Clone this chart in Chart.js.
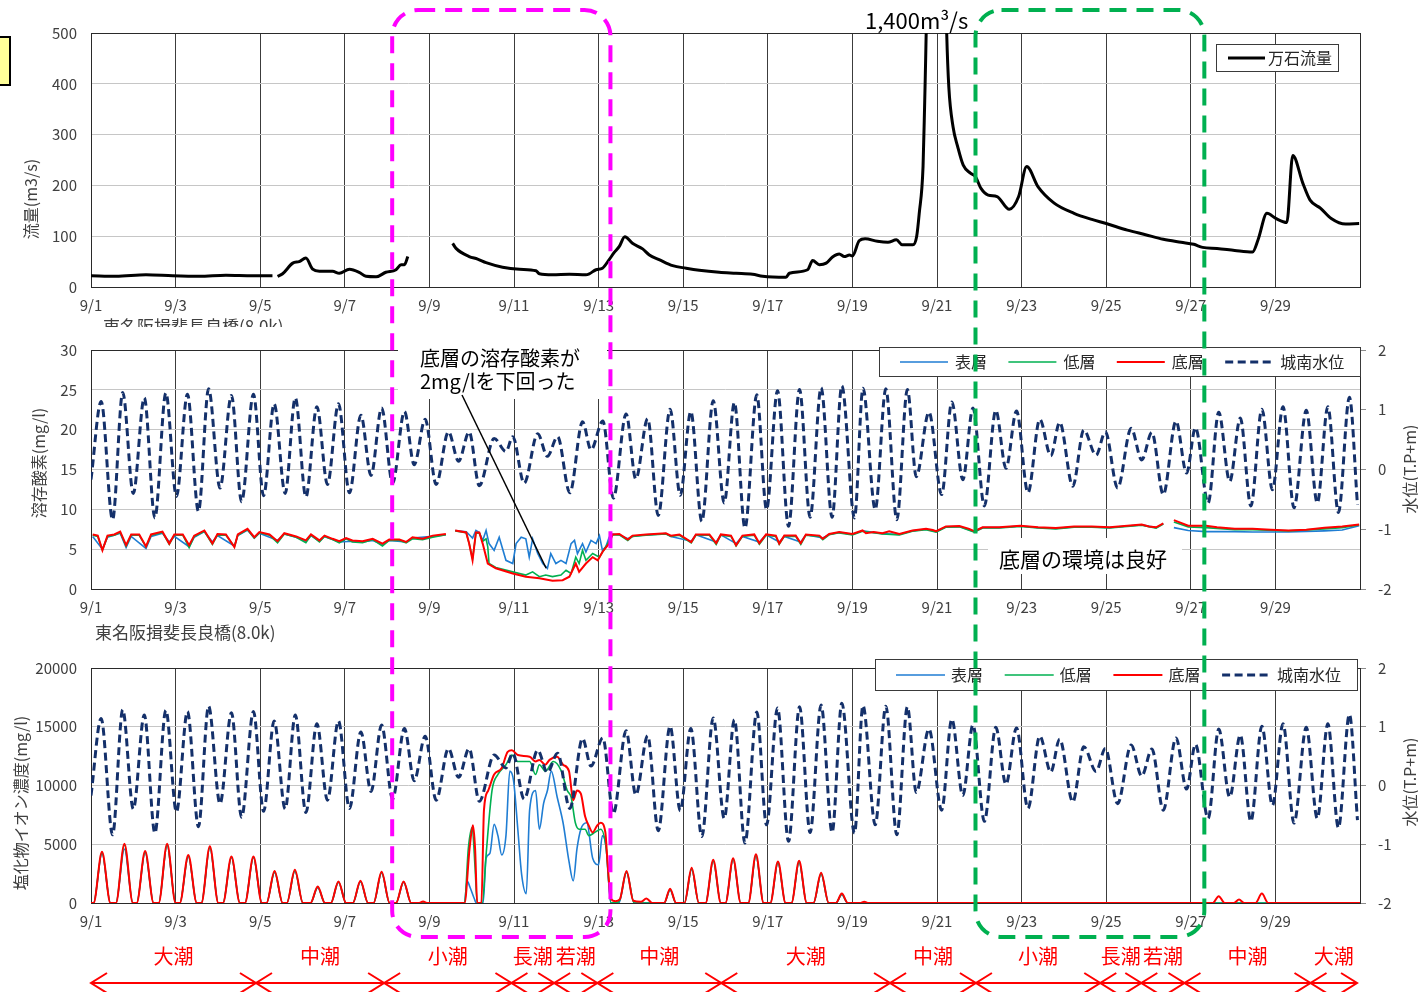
<!DOCTYPE html>
<html lang="ja">
<head>
<meta charset="utf-8">
<title>揖斐長良川 流量・溶存酸素・塩化物イオン濃度</title>
<script src="https://cdn.jsdelivr.net/npm/chart.js@4.4.1/dist/chart.umd.min.js"></script>
<style>
  html, body { margin: 0; padding: 0; background: #fff; }
  #page { position: relative; width: 1418px; height: 992px; overflow: hidden; background: #fff; }
  #page canvas { position: absolute; left: 0; }
  #flowCanvas { top: 0; }
  #doCanvas { top: 327px; }
  #clCanvas { top: 645px; }
  #overlay { top: 0; pointer-events: none; }
</style>
</head>
<body>
<div id="page">
  <canvas id="flowCanvas" width="1418" height="327" style="width:1418px;height:327px"></canvas>
  <canvas id="doCanvas" width="1418" height="318" style="width:1418px;height:318px"></canvas>
  <canvas id="clCanvas" width="1418" height="347" style="width:1418px;height:347px"></canvas>
  <canvas id="overlay" width="1418" height="992" style="width:1418px;height:992px"></canvas>
</div>
<script>
// ---- axis labels ----
const dateLabels = ['9/1','9/3','9/5','9/7','9/9','9/11','9/13','9/15','9/17','9/19','9/21','9/23','9/25','9/27','9/29'];
const flowTicks  = [0, 100, 200, 300, 400, 500];
const doTicks    = [0, 5, 10, 15, 20, 25, 30];
const clTicks    = [0, 5000, 10000, 15000, 20000];
const levelTicks = [-2, -1, 0, 1, 2];

// ---- 万石流量 (m3/s), [day since 9/1 0:00, value]; null = missing ----
const flowData = [
  [0,22],[0.59,21],[1.30,24],[1.93,22],[2.56,21],[3.19,23],[3.82,22],[4.29,22],[4.35,null],
  [4.41,21],[4.53,26],[4.77,47],[4.92,50],[5.08,57],[5.24,35],[5.40,31],[5.71,31],[5.87,27],[6.11,35],
  [6.34,29],[6.50,21],[6.74,20],[6.97,29],[7.21,34],[7.33,44],[7.41,44],[7.49,60],[8.00,null],
  [8.55,86],[8.63,76],[8.94,60],[9.14,55],[9.34,48],[9.73,39],[10.13,35],[10.52,32],[10.60,26],[10.91,24],
  [11.31,25],[11.70,24],[11.78,26],[11.94,34],[12.09,37],[12.25,54],[12.37,68],[12.49,80],[12.62,99],
  [12.80,86],[13.04,75],[13.20,63],[13.43,54],[13.75,42],[14.07,37],[14.38,33],[14.85,29],[15.25,27],
  [15.64,25],[15.88,21],[16.43,19],[16.51,27],[16.94,34],[17.06,52],[17.22,44],[17.38,47],[17.53,59],
  [17.69,65],[17.81,60],[17.93,63],[18.00,61],[18.16,91],[18.30,95],[18.59,90],[18.84,88],[19.04,93],
  [19.18,83],[19.43,83],[19.52,100],[19.58,145],[19.67,237],[19.71,367],[20.00,1400],[20.23,498],
  [20.28,393],[20.38,315],[20.49,276],[20.62,240],[20.79,224],[20.91,217],[21.04,194],[21.21,181],
  [21.42,178],[21.71,153],[21.93,178],[22.12,237],[22.39,197],[22.77,165],[23.24,145],[23.66,133],
  [24.00,125],[24.50,112],[24.93,103],[25.35,94],[25.77,88],[26.07,84],[26.28,78],[26.62,76],[27.04,72],
  [27.46,69],[27.59,93],[27.80,145],[28.01,135],[28.27,127],[28.41,259],[28.65,204],[28.82,171],
  [29.07,155],[29.32,135],[29.66,124],[29.98,125]
];

// ---- 城南水位 (T.P+m): high and low water, [day, level] ----
const levelData = [
  [0.00,-0.17],[0.24,1.14],[0.51,-0.84],[0.75,1.29],[1.00,-0.40],[1.26,1.20],[1.51,-0.81],[1.77,1.28],
  [2.02,-0.45],[2.28,1.26],[2.54,-0.70],[2.78,1.35],[3.05,-0.31],[3.32,1.24],[3.56,-0.54],[3.84,1.26],
  [4.08,-0.44],[4.33,1.10],[4.59,-0.40],[4.83,1.20],[5.08,-0.46],[5.34,1.05],[5.59,-0.25],[5.85,1.10],
  [6.11,-0.39],[6.38,0.91],[6.62,-0.10],[6.87,1.03],[7.13,-0.23],[7.41,0.97],[7.64,0.08],[7.90,0.84],
  [8.16,-0.25],[8.45,0.63],[8.69,0.14],[8.94,0.63],[9.18,-0.27],[9.53,0.52],[9.81,0.30],[9.97,0.55],
  [10.24,-0.23],[10.56,0.60],[10.79,0.22],[11.03,0.55],[11.32,-0.39],[11.62,0.80],[11.82,0.33],[12.10,0.81],
  [12.35,-0.48],[12.65,0.93],[12.88,-0.16],[13.16,0.85],[13.41,-0.77],[13.69,1.01],[13.93,-0.43],[14.18,0.97],
  [14.44,-0.87],[14.71,1.15],[14.97,-0.56],[15.21,1.12],[15.46,-0.98],[15.74,1.25],[15.97,-0.67],[16.23,1.32],
  [16.49,-0.95],[16.75,1.34],[17.00,-0.80],[17.26,1.37],[17.52,-0.80],[17.75,1.40],[18.05,-0.81],[18.25,1.36],
  [18.54,-0.67],[18.79,1.35],[19.05,-0.84],[19.30,1.34],[19.51,-0.12],[19.81,0.96],[20.11,-0.42],[20.35,1.13],
  [20.61,-0.17],[20.85,1.03],[21.12,-0.61],[21.39,0.99],[21.63,0.02],[21.88,0.98],[22.15,-0.39],[22.43,0.84],
  [22.69,0.23],[22.90,0.79],[23.21,-0.28],[23.47,0.66],[23.76,0.24],[23.98,0.63],[24.27,-0.31],[24.59,0.69],
  [24.84,0.16],[25.08,0.62],[25.35,-0.42],[25.65,0.81],[25.90,-0.06],[26.11,0.70],[26.41,-0.56],[26.66,0.96],
  [26.92,-0.20],[27.17,0.86],[27.42,-0.61],[27.68,1.01],[27.93,-0.34],[28.18,1.05],[28.44,-0.64],[28.73,0.99],
  [28.99,-0.56],[29.24,1.05],[29.49,-0.72],[29.75,1.21],[29.94,-0.59]
];

// ---- 溶存酸素 (mg/l) ----
const doSurface = [
  [0.04,6.6],[0.27,5.0],[0.39,6.5],[0.69,7.0],[0.83,5.2],[0.95,6.6],[1.30,5.1],[1.42,6.6],[1.69,7.0],[1.85,5.9],
  [1.97,6.6],[2.32,5.3],[2.44,6.5],[2.68,7.2],[2.87,5.9],[2.99,6.7],[3.39,5.4],[3.47,6.7],[3.70,7.4],[3.86,6.4],
  [3.98,7.0],[4.41,6.1],[4.57,6.9],[4.85,6.5],[5.08,6.0],[5.20,6.7],[5.40,6.0],[5.52,6.6],[5.87,5.9],[6.18,6.0],
  [6.42,5.9],[6.66,6.1],[6.89,5.6],[7.05,6.1],[7.45,5.9],[7.60,6.4],[8.08,6.6],[8.39,6.8],[8.45,null],
  [8.61,7.35],[8.87,7.2],[9.02,6.4],[9.10,7.35],[9.18,7.1],[9.26,6.1],[9.34,7.35],[9.41,5.7],[9.53,4.85],
  [9.65,6.5],[9.81,3.6],[9.97,3.2],[10.05,5.7],[10.17,6.5],[10.28,6.3],[10.36,4.0],[10.44,6.3],[10.56,4.45],
  [10.68,3.2],[10.79,2.6],[10.87,4.45],[10.99,3.2],[11.11,3.6],[11.23,3.2],[11.35,5.7],[11.43,6.1],[11.50,4.45],
  [11.62,5.7],[11.70,4.65],[11.82,6.1],[11.94,5.7],[12.02,6.7],[12.09,4.85],[12.17,5.3],[12.25,6.5],[12.33,6.9],
  [12.49,6.8],[12.69,6.3],[12.80,6.6],[13.12,6.8],[13.59,6.95],[13.71,6.6],[14.19,6.0],[14.30,6.8],[14.78,5.9],
  [14.89,6.8],[15.25,5.7],[15.40,6.6],[15.80,5.9],[15.96,6.8],[16.27,5.9],[16.39,6.6],[16.78,5.9],[16.90,6.8],
  [17.30,6.4],[17.45,6.85],[17.69,7.1],[18.00,6.85],[18.24,7.3],[18.71,6.95],[19.11,6.85],[19.42,7.3],[19.74,7.5],
  [19.98,7.2],[20.21,7.8],[20.53,7.85],[20.88,7.2],[21.08,7.7],[21.47,7.7],[21.97,7.9],[22.39,7.7],[22.81,7.6],
  [23.24,7.8],[23.66,7.8],[24.08,7.7],[24.50,7.9],[24.84,8.05],[25.18,7.7],[25.35,8.2],[25.45,null],
  [25.60,7.7],[25.94,7.35],[26.36,7.2],[27.04,7.2],[27.46,7.15],[28.31,7.15],[29.16,7.3],[29.58,7.4],[29.98,7.95]
];
const doMiddle = [
  [0.04,6.75],[0.16,6.6],[0.27,4.9],[0.39,6.6],[0.55,6.75],[0.69,7.1],[0.83,5.4],[0.95,6.75],[1.14,6.75],[1.30,5.3],
  [1.42,6.75],[1.69,7.1],[1.85,5.6],[1.97,6.75],[2.17,6.75],[2.32,5.2],[2.44,6.6],[2.68,7.25],[2.87,5.6],[2.99,6.8],
  [3.19,6.75],[3.39,5.3],[3.47,6.75],[3.70,7.45],[3.86,6.4],[3.98,7.05],[4.22,6.75],[4.41,5.8],[4.57,6.9],[4.85,6.5],
  [5.08,5.8],[5.20,6.75],[5.40,5.9],[5.52,6.6],[5.71,6.2],[5.87,5.8],[6.03,6.3],[6.18,5.9],[6.42,5.8],[6.66,6.2],
  [6.89,5.4],[7.05,6.1],[7.29,6.1],[7.45,5.8],[7.60,6.3],[7.84,6.2],[8.08,6.5],[8.39,6.8],[8.45,null],
  [8.61,7.3],[8.87,7.05],[8.94,5.7],[9.02,3.8],[9.10,7.0],[9.18,7.0],[9.26,6.0],[9.34,6.3],[9.38,5.3],[9.41,3.2],
  [9.57,2.7],[9.97,2.15],[10.28,1.75],[10.44,2.15],[10.60,1.55],[10.75,1.75],[10.91,1.55],[11.11,1.75],[11.23,2.35],
  [11.35,1.95],[11.46,4.0],[11.54,3.2],[11.62,4.85],[11.70,3.6],[11.86,4.45],[12.02,4.0],[12.17,5.3],[12.33,6.8],
  [12.49,6.8],[12.69,6.1],[12.80,6.6],[13.12,6.75],[13.59,6.9],[13.71,6.6],[13.91,6.75],[14.19,5.8],[14.30,6.75],
  [14.62,6.75],[14.78,5.6],[14.89,6.75],[15.13,6.6],[15.25,5.4],[15.40,6.6],[15.68,6.75],[15.80,5.6],[15.96,6.75],
  [16.19,6.6],[16.27,5.6],[16.39,6.6],[16.66,6.6],[16.78,5.6],[16.90,6.75],[17.22,6.6],[17.30,6.2],[17.45,6.8],
  [17.69,7.05],[18.00,6.8],[18.24,7.25],[18.71,6.9],[19.11,6.8],[19.42,7.25],[19.74,7.45],[19.98,7.15],[20.21,7.75],
  [20.53,7.8],[20.88,7.15],[21.08,7.65],[21.47,7.65],[21.97,7.85],[22.39,7.65],[22.81,7.55],[23.24,7.75],[23.66,7.75],
  [24.08,7.65],[24.50,7.85],[24.84,8.0],[25.18,7.65],[25.35,8.15],[25.45,null],
  [25.60,8.4],[25.94,7.8],[26.36,7.7],[27.04,7.45],[27.46,7.45],[28.31,7.3],[29.16,7.55],[29.58,7.7],[29.98,8.05]
];
const doBottom = [
  [0.04,6.85],[0.16,6.7],[0.27,4.85],[0.39,6.7],[0.55,6.85],[0.69,7.2],[0.83,5.5],[0.95,6.85],[1.14,6.85],[1.30,5.35],
  [1.42,6.85],[1.69,7.2],[1.85,5.7],[1.97,6.85],[2.17,6.85],[2.32,5.5],[2.44,6.7],[2.68,7.35],[2.87,5.7],[2.99,6.9],
  [3.19,6.85],[3.39,5.25],[3.47,6.85],[3.70,7.55],[3.86,6.5],[3.98,7.15],[4.22,6.85],[4.41,6.0],[4.57,7.0],[4.85,6.6],
  [5.08,6.1],[5.20,6.85],[5.40,6.1],[5.52,6.7],[5.71,6.3],[5.87,6.0],[6.03,6.4],[6.18,6.1],[6.42,6.0],[6.66,6.3],
  [6.89,5.7],[7.05,6.2],[7.29,6.2],[7.45,5.9],[7.60,6.5],[7.84,6.3],[8.08,6.7],[8.39,6.9],[8.45,null],
  [8.61,7.35],[8.87,7.1],[8.94,5.7],[9.02,3.6],[9.10,7.1],[9.18,7.1],[9.26,5.7],[9.38,3.2],[9.57,2.6],[9.97,1.95],
  [10.28,1.55],[10.60,1.35],[10.91,1.05],[11.15,1.1],[11.31,1.55],[11.46,3.2],[11.54,2.15],[11.70,3.2],[11.86,4.0],
  [11.98,3.6],[12.09,4.65],[12.25,5.7],[12.33,6.85],[12.49,6.9],[12.69,6.2],[12.80,6.7],[13.12,6.85],[13.59,7.0],
  [13.71,6.7],[13.91,6.85],[14.19,5.9],[14.30,6.85],[14.62,6.85],[14.78,5.75],[14.89,6.85],[15.13,6.7],[15.25,5.5],
  [15.40,6.7],[15.68,6.85],[15.80,5.75],[15.96,6.85],[16.19,6.7],[16.27,5.7],[16.39,6.7],[16.66,6.7],[16.78,5.75],
  [16.90,6.85],[17.22,6.7],[17.30,6.3],[17.45,6.9],[17.69,7.15],[18.00,6.9],[18.24,7.35],[18.32,7.0],[18.50,7.15],
  [18.71,7.0],[18.87,7.25],[19.11,6.9],[19.42,7.35],[19.74,7.55],[19.90,7.4],[19.98,7.25],[20.21,7.85],[20.53,7.9],
  [20.76,7.55],[20.88,7.25],[21.08,7.75],[21.47,7.75],[21.97,7.95],[22.39,7.75],[22.81,7.65],[23.24,7.85],[23.66,7.85],
  [24.08,7.75],[24.50,7.95],[24.84,8.1],[25.01,7.85],[25.18,7.75],[25.35,8.25],[25.45,null],
  [25.60,8.65],[25.94,7.95],[26.36,7.95],[26.62,7.75],[27.04,7.55],[27.46,7.55],[27.89,7.45],[28.31,7.35],[28.73,7.45],
  [29.16,7.7],[29.58,7.85],[29.98,8.1]
];

// ---- 塩化物イオン濃度 (mg/l) ----
const clSurface = [
  [0,0],[0.06,0],[0.26,4200],[0.46,0],[0.59,0],[0.79,4600],[0.99,0],[1.08,0],[1.28,4300],[1.48,0],[1.60,0],[1.80,4900],
  [2.00,0],[2.10,0],[2.30,3950],[2.50,0],[2.61,0],[2.81,4700],[3.01,0],[3.12,0],[3.32,3850],[3.52,0],[3.64,0],[3.84,3850],
  [4.04,0],[4.15,0],[4.34,2600],[4.53,0],[4.63,0],[4.82,2700],[5.01,0],[5.19,0],[5.36,1300],[5.53,0],[5.67,0],[5.85,1750],
  [6.03,0],[6.19,0],[6.37,1800],[6.55,0],[6.68,0],[6.87,2550],[7.06,0],[7.21,0],[7.39,1750],[7.57,0],[8.83,0],
  [8.89,1890],[8.96,1340],[9.06,380],[9.11,0],[9.27,0],[9.34,3810],[9.43,4220],[9.53,6690],[9.62,5730],[9.71,4090],
  [9.81,5730],[9.90,11220],[9.99,10400],[10.09,6280],[10.18,2440],[10.29,800],[10.37,7930],[10.51,9570],[10.60,6280],
  [10.70,8480],[10.79,9570],[10.88,11220],[11.02,9020],[11.16,6830],[11.30,3540],[11.40,1890],[11.49,4640],[11.58,6280],
  [11.72,6830],[11.86,3810],[12.00,3260],[12.09,5730],[12.18,4640],[12.23,2170],[12.29,0],[12.48,0],[12.66,2600],
  [12.84,0],[13.55,0],[13.69,1100],[13.83,0],[14.03,0],[14.20,2850],[14.37,0],[14.53,0],[14.71,3550],[14.89,0],
  [15.00,0],[15.18,3700],[15.36,0],[15.54,0],[15.72,4000],[15.90,0],[16.06,0],[16.24,3400],[16.42,0],[16.56,0],
  [16.74,3450],[16.92,0],[17.08,0],[17.26,2450],[17.44,0],[17.61,0],[17.75,700],[17.89,0],[30,0]
];
const clMiddle = [
  [0,0],[0.06,0],[0.26,4300],[0.46,0],[0.59,0],[0.79,4950],[0.99,0],[1.08,0],[1.28,4350],[1.48,0],[1.60,0],[1.80,4950],
  [2.00,0],[2.10,0],[2.30,4000],[2.50,0],[2.61,0],[2.81,4750],[3.01,0],[3.12,0],[3.32,3900],[3.52,0],[3.64,0],[3.84,3900],
  [4.04,0],[4.15,0],[4.34,2650],[4.53,0],[4.63,0],[4.82,2750],[5.01,0],[5.19,0],[5.36,1350],[5.53,0],[5.67,0],[5.85,1800],
  [6.03,0],[6.19,0],[6.37,1850],[6.55,0],[6.68,0],[6.87,2600],[7.06,0],[7.21,0],[7.39,1800],[7.57,0],[8.83,0],
  [8.92,4640],[9.01,6420],[9.08,2990],[9.13,0],[9.25,0],[9.34,4090],[9.48,9570],[9.62,10940],[9.81,11770],[9.95,12590],
  [10.09,12040],[10.37,12040],[10.51,10940],[10.60,11770],[10.74,11220],[10.93,12040],[11.12,11220],[11.26,9570],
  [11.35,9020],[11.45,6830],[11.54,6280],[11.68,6280],[11.77,5730],[11.91,6010],[12.05,6280],[12.18,4640],[12.29,0],
  [12.48,100],[12.66,2650],[12.84,0],[13.55,0],[13.69,1150],[13.83,0],[14.03,0],[14.20,2900],[14.37,0],[14.53,0],
  [14.71,3600],[14.89,0],[15.00,0],[15.18,3750],[15.36,0],[15.54,0],[15.72,4050],[15.90,0],[16.06,0],[16.24,3450],
  [16.42,0],[16.56,0],[16.74,3500],[16.92,0],[17.08,0],[17.26,2500],[17.44,0],[17.61,0],[17.75,750],[17.89,0],[30,0]
];
const clBottom = [
  [0,0],[0.06,0],[0.26,4360],[0.46,0],[0.59,0],[0.79,5050],[0.99,0],[1.08,0],[1.28,4420],[1.48,0],[1.60,0],[1.80,5050],
  [2.00,0],[2.10,0],[2.30,4090],[2.50,0],[2.61,0],[2.81,4830],[3.01,0],[3.12,0],[3.32,3950],[3.52,0],[3.64,0],[3.84,3950],
  [4.04,0],[4.15,0],[4.34,2720],[4.53,0],[4.63,0],[4.82,2830],[5.01,0],[5.19,0],[5.36,1400],[5.53,0],[5.67,0],[5.85,1840],
  [6.03,0],[6.19,0],[6.37,1890],[6.55,0],[6.68,0],[6.87,2660],[7.06,0],[7.21,0],[7.39,1840],[7.57,0],[7.74,0],[7.85,120],
  [7.96,0],[8.83,0],[8.95,4640],[9.03,6610],[9.08,4640],[9.13,0],[9.23,0],[9.29,7930],[9.39,9570],[9.53,10940],
  [9.71,11490],[9.85,12860],[9.95,13000],[10.09,12590],[10.37,12450],[10.51,12040],[10.60,12180],[10.74,11770],
  [10.84,12180],[11.02,12450],[11.16,11770],[11.30,11220],[11.40,8750],[11.49,9570],[11.58,9300],[11.68,7380],
  [11.77,6560],[11.86,6010],[11.96,6560],[12.05,6830],[12.16,6010],[12.21,3540],[12.29,380],[12.40,150],[12.50,300],
  [12.66,2720],[12.82,190],[13.00,100],[13.13,380],[13.27,0],[13.55,0],[13.69,1210],[13.83,0],[14.03,0],[14.20,2990],
  [14.37,0],[14.53,0],[14.71,3680],[14.89,0],[15.00,0],[15.18,3810],[15.36,0],[15.54,0],[15.72,4140],[15.90,0],
  [16.06,0],[16.24,3540],[16.42,0],[16.56,0],[16.74,3590],[16.92,0],[17.08,0],[17.26,2580],[17.44,0],[17.61,0],
  [17.75,800],[17.89,0],[18.18,0],[18.28,100],[18.38,0],[26.52,0],[26.66,580],[26.80,0],[27.02,0],[27.14,300],
  [27.26,0],[27.53,0],[27.68,800],[27.83,0],[30,0]
];

// ---- 潮汐区分 (boundaries in days since 9/1) ----
const tideNames  = ['大潮','中潮','小潮','長潮','若潮','中潮','大潮','中潮','小潮','長潮','若潮','中潮','大潮'];
const tideBounds = [0, 3.9, 6.93, 9.94, 10.95, 11.97, 14.9, 18.89, 20.92, 23.86, 24.83, 25.85, 28.83, 29.93];

// highlighted periods (days) and the callout target
const lowDoPeriod  = [7.12, 12.28];
const goodDoPeriod = [20.91, 26.32];
const calloutPoint = [10.76, 2.6];

// ---------------------------------------------------------------
const FONT = "'Noto Sans CJK JP', 'Noto Sans', sans-serif";
const TICK_COLOR = '#404040';
const NAVY = '#14306A', BLUE = '#1F7DD3', GREEN = '#00B050', RED = '#FF0000';
const LEFT_W = 91, RIGHT_W = 58;

Chart.defaults.font.family = FONT;
Chart.defaults.animation = false;

const toPoints = arr => arr.map(p => ({ x: p[0], y: p[1] }));

function xScale(axisHeight) {
  return {
    type: 'linear', min: 0, max: 30,
    afterBuildTicks: s => { s.ticks = dateLabels.map((_, i) => ({ value: i * 2 })); },
    afterFit: s => { s.height = axisHeight; },
    grid: { color: '#3c3c3c', lineWidth: 1, drawTicks: false },
    border: { display: false },
    ticks: { autoSkip: false, maxRotation: 0, minRotation: 0, padding: 9, color: TICK_COLOR,
             font: { family: FONT, size: 15 }, callback: (v, i) => dateLabels[i] }
  };
}
function leftScale(tickValues) {
  return {
    type: 'linear', position: 'left',
    min: tickValues[0], max: tickValues[tickValues.length - 1],
    afterBuildTicks: s => { s.ticks = tickValues.map(v => ({ value: v })); },
    afterFit: s => { s.width = LEFT_W; },
    grid: { color: '#c6c6c6', lineWidth: 1, drawTicks: false },
    border: { display: false },
    ticks: { padding: 14, color: TICK_COLOR, font: { family: FONT, size: 15 }, callback: v => String(v) }
  };
}
function rightScale(tickValues) {
  return {
    type: 'linear', position: 'right',
    min: tickValues[0], max: tickValues[tickValues.length - 1],
    afterBuildTicks: s => { s.ticks = tickValues.map(v => ({ value: v })); },
    afterFit: s => { s.width = RIGHT_W; },
    grid: { drawOnChartArea: false, drawTicks: true, tickLength: 6, color: '#8c8c8c' },
    border: { display: false },
    ticks: { padding: 12, color: TICK_COLOR, font: { family: FONT, size: 15 }, callback: v => String(v) }
  };
}

// plot frame
const framePlugin = {
  id: 'frame',
  beforeDatasetsDraw(chart) {
    const { ctx, chartArea: a } = chart;
    ctx.save();
    ctx.strokeStyle = '#2a2a2a';
    ctx.lineWidth = 1;
    ctx.strokeRect(a.left + 0.5, a.top + 0.5, a.right - a.left, a.bottom - a.top);
    ctx.restore();
  }
};

// axis titles and captions
const textPlugin = {
  id: 'texts',
  afterDraw(chart, args, opts) {
    const ctx = chart.ctx;
    (opts.items || []).forEach(t => {
      ctx.save();
      ctx.fillStyle = t.color || TICK_COLOR;
      ctx.font = `${t.size || 16}px ${FONT}`;
      ctx.translate(t.x, t.y);
      if (t.rotate) {
        ctx.rotate(-Math.PI / 2);
        ctx.textAlign = 'center';
        ctx.textBaseline = 'middle';
      } else {
        ctx.textAlign = 'left';
        ctx.textBaseline = 'alphabetic';
      }
      ctx.fillText(t.text, 0, 0);
      ctx.restore();
    });
  }
};

// boxed legend inside the plot
const legendPlugin = {
  id: 'boxLegend',
  afterDatasetsDraw(chart, args, o) {
    if (!o || !o.order) return;
    const ctx = chart.ctx;
    ctx.save();
    ctx.fillStyle = '#fff';
    ctx.fillRect(o.x, o.y, o.w, o.h);
    ctx.strokeStyle = '#3a3a3a';
    ctx.lineWidth = 1;
    ctx.strokeRect(o.x + 0.5, o.y + 0.5, o.w, o.h);
    const cy = o.y + o.h / 2 + 0.5;
    o.order.forEach((di, k) => {
      const ds = chart.data.datasets[di];
      const x0 = o.x + o.first + k * o.step;
      ctx.strokeStyle = ds.borderColor;
      ctx.lineWidth = ds.borderWidth;
      ctx.setLineDash(ds.borderDash || []);
      ctx.beginPath();
      ctx.moveTo(x0, cy);
      ctx.lineTo(x0 + o.len, cy);
      ctx.stroke();
      ctx.setLineDash([]);
      ctx.fillStyle = '#262626';
      ctx.font = `16px ${FONT}`;
      ctx.textAlign = 'left';
      ctx.textBaseline = 'middle';
      ctx.fillText(ds.label, x0 + o.len + o.gap, cy);
    });
    ctx.restore();
  }
};

const commonPlugins = { legend: { display: false }, tooltip: { enabled: false } };

function lineSet(label, data, color, width, extra) {
  return Object.assign({
    label, data: toPoints(data), borderColor: color, backgroundColor: color,
    borderWidth: width, pointRadius: 0, fill: false, spanGaps: false, tension: 0
  }, extra || {});
}

// ---- 万石流量 ----
const flowChart = new Chart(document.getElementById('flowCanvas'), {
  type: 'line',
  data: { datasets: [
    lineSet('万石流量', flowData, '#000', 3, { cubicInterpolationMode: 'monotone' })
  ] },
  options: {
    responsive: false, animation: false,
    layout: { padding: { left: 0, right: RIGHT_W, top: 33, bottom: 0 } },
    scales: { x: xScale(40), y: leftScale(flowTicks) },
    plugins: Object.assign({}, commonPlugins, {
      boxLegend: { x: 1216, y: 44, w: 122, h: 27, first: 12, step: 0, len: 37, gap: 3, order: [0] },
      texts: { items: [
        { text: '流量(m3/s)', x: 31, y: 199, rotate: true, size: 16 },
        { text: '東名阪揖斐長良橋(8.0k)', x: 103, y: 333, size: 17 }
      ] }
    })
  },
  plugins: [framePlugin, legendPlugin, textPlugin]
});

// ---- 溶存酸素 ----
const doChart = new Chart(document.getElementById('doCanvas'), {
  type: 'line',
  data: { datasets: [
    lineSet('城南水位', levelData, NAVY, 3, { yAxisID: 'y2', borderDash: [8, 4.5], cubicInterpolationMode: 'monotone' }),
    lineSet('底層', doBottom, RED, 2, { yAxisID: 'y' }),
    lineSet('低層', doMiddle, GREEN, 1.6, { yAxisID: 'y' }),
    lineSet('表層', doSurface, BLUE, 1.6, { yAxisID: 'y' })
  ] },
  options: {
    responsive: false, animation: false,
    layout: { padding: { left: 0, right: 0, top: 21, bottom: 0 } },
    scales: { x: xScale(56), y: leftScale(doTicks), y2: rightScale(levelTicks) },
    plugins: Object.assign({}, commonPlugins, {
      boxLegend: { x: 879, y: 20, w: 481, h: 29, first: 21, step: 108.4, len: 48, gap: 7, order: [3, 2, 1, 0] },
      texts: { items: [
        { text: '溶存酸素(mg/l)', x: 39, y: 136, rotate: true, size: 16 },
        { text: '水位(T.P+m)', x: 1410, y: 142, rotate: true, size: 16 },
        { text: '東名阪揖斐長良橋(8.0k)', x: 95, y: 312, size: 17 }
      ] }
    })
  },
  plugins: [framePlugin, legendPlugin, textPlugin]
});

// ---- 塩化物イオン濃度 ----
const clChart = new Chart(document.getElementById('clCanvas'), {
  type: 'line',
  data: { datasets: [
    lineSet('城南水位', levelData, NAVY, 3, { yAxisID: 'y2', borderDash: [8, 4.5], cubicInterpolationMode: 'monotone' }),
    lineSet('底層', clBottom, RED, 2, { yAxisID: 'y', cubicInterpolationMode: 'monotone' }),
    lineSet('低層', clMiddle, GREEN, 1.6, { yAxisID: 'y', cubicInterpolationMode: 'monotone' }),
    lineSet('表層', clSurface, BLUE, 1.6, { yAxisID: 'y', cubicInterpolationMode: 'monotone' })
  ] },
  options: {
    responsive: false, animation: false,
    layout: { padding: { left: 0, right: 0, top: 15, bottom: 0 } },
    scales: { x: xScale(89), y: leftScale(clTicks), y2: rightScale(levelTicks) },
    plugins: Object.assign({}, commonPlugins, {
      boxLegend: { x: 875, y: 14, w: 482, h: 31, first: 21, step: 108.7, len: 49, gap: 6, order: [3, 2, 1, 0] },
      texts: { items: [
        { text: '塩化物イオン濃度(mg/l)', x: 21, y: 158, rotate: true, size: 16 },
        { text: '水位(T.P+m)', x: 1410, y: 137, rotate: true, size: 16 }
      ] }
    })
  },
  plugins: [framePlugin, legendPlugin, textPlugin]
});

// ---- page-wide annotations ----
function dashedBox(ctx, x0, y0, x1, y1, color) {
  const r = 26;
  ctx.save();
  ctx.strokeStyle = color;
  ctx.lineWidth = 4;
  ctx.setLineDash([17, 10]);
  ctx.beginPath();
  ctx.moveTo(x0 + r, y0);
  ctx.arcTo(x1, y0, x1, y1, r);
  ctx.arcTo(x1, y1, x0, y1, r);
  ctx.arcTo(x0, y1, x0, y0, r);
  ctx.arcTo(x0, y0, x1, y0, r);
  ctx.closePath();
  ctx.stroke();
  ctx.restore();
}

function drawOverlay() {
  const cv = document.getElementById('overlay');
  const ctx = cv.getContext('2d');
  const xs = doChart.scales.x;
  const X = d => xs.getPixelForValue(d);
  const DO_TOP = 327;

  // small marker box at the top-left edge
  ctx.fillStyle = '#FFFF99';
  ctx.fillRect(-4, 37, 14, 48);
  ctx.strokeStyle = '#000';
  ctx.lineWidth = 2;
  ctx.strokeRect(-4, 37, 14, 48);

  // flood peak value
  ctx.fillStyle = '#000';
  ctx.font = `22px ${FONT}`;
  ctx.textAlign = 'left';
  ctx.textBaseline = 'alphabetic';
  ctx.fillText('1,400m³/s', 865, 29);

  // low dissolved oxygen callout
  ctx.fillStyle = '#fff';
  ctx.fillRect(398, 341, 209, 58);
  ctx.fillStyle = '#000';
  ctx.font = `20px ${FONT}`;
  ctx.fillText('底層の溶存酸素が', 420, 366);
  ctx.fillText('2mg/lを下回った', 420, 389);
  ctx.strokeStyle = '#000';
  ctx.lineWidth = 1.5;
  ctx.beginPath();
  ctx.moveTo(462, 395);
  ctx.lineTo(X(calloutPoint[0]), DO_TOP + doChart.scales.y.getPixelForValue(calloutPoint[1]));
  ctx.stroke();

  // good condition note
  ctx.fillStyle = '#fff';
  ctx.fillRect(988, 538, 194, 36);
  ctx.fillStyle = '#000';
  ctx.font = `21px ${FONT}`;
  ctx.fillText('底層の環境は良好', 999, 567);

  // highlighted periods
  dashedBox(ctx, X(lowDoPeriod[0]), 10, X(lowDoPeriod[1]), 937, '#FF00FF');
  dashedBox(ctx, X(goodDoPeriod[0]), 10, X(goodDoPeriod[1]), 937, '#00B050');

  // tide classes
  const ay = 983;
  ctx.strokeStyle = '#FF0000';
  ctx.fillStyle = '#FF0000';
  ctx.lineWidth = 2;
  ctx.font = `20px ${FONT}`;
  ctx.textAlign = 'center';
  ctx.textBaseline = 'middle';
  tideNames.forEach((name, i) => {
    const a = X(tideBounds[i]), b = X(tideBounds[i + 1]);
    ctx.beginPath();
    ctx.moveTo(a, ay); ctx.lineTo(b, ay);
    ctx.moveTo(a + 16, ay - 10); ctx.lineTo(a, ay); ctx.lineTo(a + 16, ay + 10);
    ctx.moveTo(b - 16, ay - 10); ctx.lineTo(b, ay); ctx.lineTo(b - 16, ay + 10);
    ctx.stroke();
    ctx.fillText(name, (a + b) / 2, 956);
  });
}
drawOverlay();
</script>
</body>
</html>
